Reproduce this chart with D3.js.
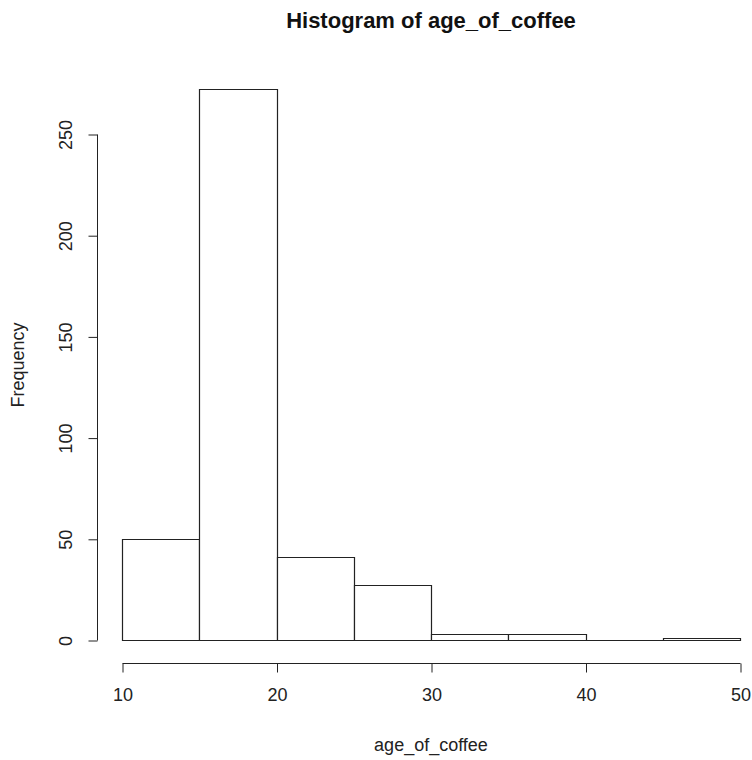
<!DOCTYPE html>
<html>
<head>
<meta charset="utf-8">
<script src="https://cdn.jsdelivr.net/npm/d3@7"></script>
<style>
  body { margin: 0; background: #fff; }
  svg text { font-family: "Liberation Sans", Arial, sans-serif; fill: #222; }
</style>
</head>
<body>
<div class="chart"></div>
<script>
// bin edges and counts
var binStarts = [10, 15, 20, 25, 30, 35, 40, 45];
var binWidth = 5;
var counts = [50, 272, 41, 27, 3, 3, 0, 1];
var xTicks = [10, 20, 30, 40, 50];
var yTicks = [0, 50, 100, 150, 200, 250];

var W = 752, H = 760;

var svg = d3.select(".chart").append("svg")
  .attr("width", W)
  .attr("height", H);

// scales (pixel positions taken from the reference axes)
var x = d3.scaleLinear().domain([10, 50]).range([122, 740]);
var y = d3.scaleLinear().domain([0, 250]).range([640, 134]);

var bins = binStarts.map(function (s, i) {
  return { x0: s, x1: s + binWidth, n: counts[i] };
});

// bars as closed paths so empty bins still show as a line on the baseline
svg.append("g").selectAll("path")
  .data(bins)
  .enter().append("path")
  .attr("d", function (d) {
    var x0 = Math.round(x(d.x0)) + 0.5, x1 = Math.round(x(d.x1)) + 0.5;
    var y0 = Math.round(y(0)) + 0.5, y1 = Math.round(y(d.n)) + 0.5;
    return "M" + x0 + "," + y0 + "V" + y1 + "H" + x1 + "V" + y0 + "Z";
  })
  .style("fill", "white")
  .style("stroke", "#222")
  .style("stroke-width", 1.2);

// x axis
var xAxis = svg.append("g")
  .attr("transform", "translate(0.5,663.5)")
  .call(d3.axisBottom(x).tickValues(xTicks).tickSize(9).tickPadding(16).tickFormat(d3.format("d")));
xAxis.select(".domain").attr("d", "M" + x(10) + ",0H" + x(50)).style("stroke", "#222");
xAxis.selectAll(".tick line").style("stroke", "#222");
xAxis.selectAll("text").style("font-size", "18px").style("fill", "#222");

// y axis
var yAxis = svg.append("g")
  .attr("transform", "translate(97.5,0.5)")
  .call(d3.axisLeft(y).tickValues(yTicks).tickSize(9));
yAxis.select(".domain").attr("d", "M0," + y(0) + "V" + y(250)).style("stroke", "#222");
yAxis.selectAll(".tick line").style("stroke", "#222");
yAxis.selectAll("text")
  .attr("x", 0).attr("y", 0).attr("dy", 0)
  .attr("transform", "translate(-26,0) rotate(-90)")
  .attr("text-anchor", "middle")
  .style("font-size", "18px")
  .style("fill", "#222");

// titles
svg.append("text")
  .attr("x", 431).attr("y", 28)
  .attr("text-anchor", "middle")
  .style("font-size", "22px")
  .style("font-weight", "bold")
  .style("fill", "#111")
  .text("Histogram of age_of_coffee");

svg.append("text")
  .attr("x", 431).attr("y", 751)
  .attr("text-anchor", "middle")
  .style("font-size", "18px")
  .text("age_of_coffee");

svg.append("text")
  .attr("transform", "translate(24,365) rotate(-90)")
  .attr("text-anchor", "middle")
  .style("font-size", "18px")
  .text("Frequency");
</script>
</body>
</html>
